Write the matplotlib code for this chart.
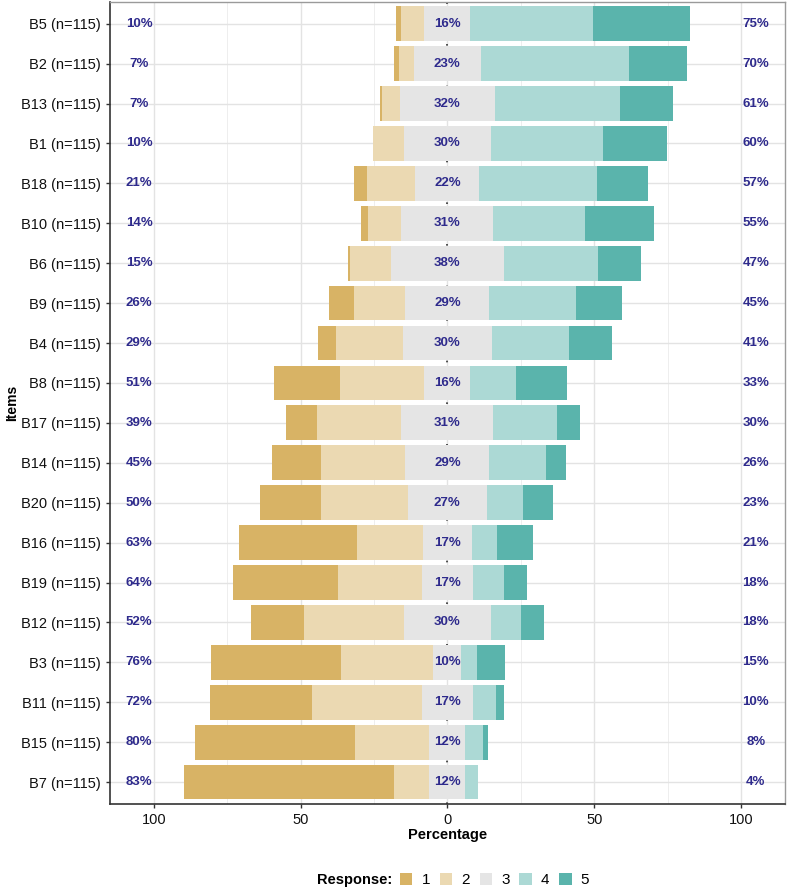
import numpy as np
from matplotlib import pyplot as plt
from matplotlib.patches import Patch

plt.rcParams['font.family'] = ['Liberation Sans', 'DejaVu Sans']

n = 115
items = ["B5", "B2", "B13", "B1", "B18", "B10", "B6", "B9", "B4", "B8",
         "B17", "B14", "B20", "B16", "B19", "B12", "B3", "B11", "B15", "B7"]
# response counts per level (1..5), items top to bottom
lvl1 = [2, 2, 1, 0, 5, 3, 1, 10, 7, 26, 12, 19, 24, 46, 41, 21, 51, 40, 63, 82]
lvl2 = [9, 6, 7, 12, 19, 13, 16, 20, 26, 33, 33, 33, 34, 26, 33, 39, 36, 43, 29, 14]
lvl3 = [18, 26, 37, 34, 25, 36, 44, 33, 35, 18, 36, 33, 31, 19, 20, 34, 11, 20, 14, 14]
lvl4 = [48, 58, 49, 44, 46, 36, 37, 34, 30, 18, 25, 22, 14, 10, 12, 12, 6, 9, 7, 5]
lvl5 = [38, 23, 21, 25, 20, 27, 17, 18, 17, 20, 9, 8, 12, 14, 9, 9, 11, 3, 2, 0]
levels = ["1", "2", "3", "4", "5"]
colors = ["#D8B365", "#EBD9B2", "#E5E5E5", "#ACD9D5", "#5AB4AC"]
xticks = [-100, -50, 0, 50, 100]

p1 = np.array(lvl1) / n * 100
p2 = np.array(lvl2) / n * 100
p3 = np.array(lvl3) / n * 100
p4 = np.array(lvl4) / n * 100
p5 = np.array(lvl5) / n * 100

y = np.arange(len(items))[::-1] + 1
h = 0.87

fig = plt.figure(figsize=(7.89, 8.9), dpi=100)
ax = fig.add_axes([0.139, 0.0966, 0.856, 0.9014])

# grid
for gx in [-75, -25, 25, 75]:
    ax.axvline(gx, color="#EBEBEB", lw=0.6, zorder=0)
for gx in xticks:
    ax.axvline(gx, color="#E3E3E3", lw=1.0, zorder=0)
for gy in y:
    ax.axhline(gy, color="#E3E3E3", lw=1.0, zorder=0)
ax.axvline(0, color="#333333", lw=1.2, ls=(0, (1, 4)), zorder=0.5)

half = p3 / 2
ax.barh(y, -p1, left=-half - p2, height=h, color=colors[0], zorder=2)
ax.barh(y, -p2, left=-half, height=h, color=colors[1], zorder=2)
ax.barh(y, p3, left=-half, height=h, color=colors[2], zorder=2)
ax.barh(y, p4, left=half, height=h, color=colors[3], zorder=2)
ax.barh(y, p5, left=half + p4, height=h, color=colors[4], zorder=2)

lab_col = "#2E2A8C"
for yi, lo, mid, hi in zip(y, p1 + p2, p3, p4 + p5):
    ax.text(-105, yi, f"{lo:.0f}%", ha="center", va="center", fontsize=9.5,
            color=lab_col, fontweight="bold", zorder=3)
    ax.text(0, yi, f"{mid:.0f}%", ha="center", va="center", fontsize=9.5,
            color=lab_col, fontweight="bold", zorder=3)
    ax.text(105, yi, f"{hi:.0f}%", ha="center", va="center", fontsize=9.5,
            color=lab_col, fontweight="bold", zorder=3)

ax.set_xlim(-115, 115)
ax.set_ylim(0.45, len(items) + 0.55)
ax.set_xticks(xticks)
ax.set_xticklabels([str(abs(v)) for v in xticks])
ax.set_yticks(y)
ax.set_yticklabels([f"{it} (n={n})" for it in items])
ax.tick_params(axis="both", labelsize=10.5, colors="#333333", length=3,
               width=1, labelcolor="#111111")
ax.set_xlabel("Percentage", fontsize=10.5, fontweight="bold", labelpad=1)
ax.set_ylabel("Items", fontsize=10, fontweight="bold", labelpad=1)

for s in ["top", "right"]:
    ax.spines[s].set_color("#9A9A9A")
    ax.spines[s].set_linewidth(1.0)
for s in ["left", "bottom"]:
    ax.spines[s].set_color("#333333")
    ax.spines[s].set_linewidth(1.2)

handles = [Patch(facecolor=c, edgecolor="none") for c in colors]
fig.text(0.497, 0.0112, "Response:", ha="right", va="center", fontsize=10.5,
         fontweight="bold")
fig.legend(handles, levels, loc="center left", bbox_to_anchor=(0.507, 0.0112),
           ncol=5, frameon=False, fontsize=11, handlelength=0.8,
           handleheight=0.8, handletextpad=0.6, columnspacing=0.65,
           borderpad=0, borderaxespad=0)

fig.savefig("out.png", dpi=100)
plt.close()
